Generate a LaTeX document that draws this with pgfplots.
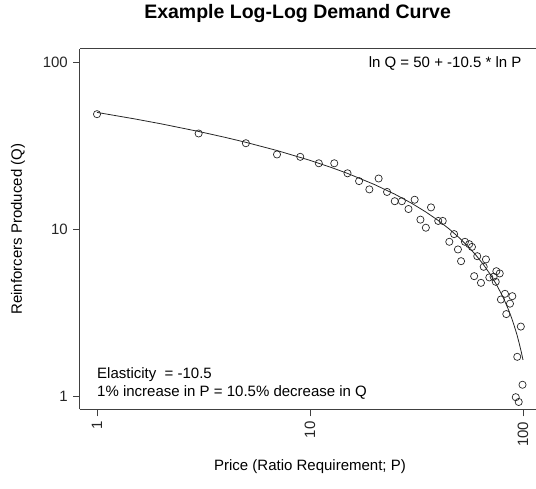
\documentclass[border=0pt]{standalone}
\usepackage{pgfplots}
\pgfplotsset{compat=1.18}
\usepackage{fontspec}
\setmainfont{Liberation Sans}

\pgfplotstableread{
x y
1 48.8
3 37.4
5 32.7
7 28.0
9 27.1
11 24.8
13 24.8
15 21.6
17 19.4
19 17.3
21 20.1
23 16.7
25 14.7
27 14.7
29 13.2
31 15.0
33 11.4
35 10.2
37 13.5
40 11.2
42 11.2
45.1 8.40
47.5 9.34
49.5 7.56
51.2 6.43
53.4 8.40
55.9 8.13
57.6 7.83
59.0 5.23
61.0 6.89
63.5 4.77
65.4 5.95
67.0 6.59
69.5 5.14
72.8 5.19
75.0 5.60
77.8 5.43
74.5 4.84
82.3 4.10
89.1 3.97
78.8 3.79
86.9 3.58
83.5 3.10
97.7 2.61
94.0 1.72
99.5 1.17
92.5 0.986
95.5 0.923
}\pts

\pgfplotstableread{
x y
1 50
1.5 45.74
2 42.72
3 38.46
4 35.44
5 33.10
7 29.57
10 25.82
12.5 23.48
15 21.57
20 18.54
25 16.20
30 14.29
35 12.67
40 11.27
45 10.03
50 8.92
55 7.92
60 7.01
65 6.17
70 5.39
75 4.67
80 3.99
82 3.73
85 3.35
86 3.23
88 2.99
90 2.75
92 2.52
94 2.30
96 2.07
98 1.86
100 1.65
}\curve

\begin{document}
\fontsize{15}{18}\selectfont
\begin{tikzpicture}
\begin{axis}[
  at={(0,0)}, anchor=south west,
  xmode=log, ymode=log,
  scale only axis, width=460pt, height=360.7pt,
  xmin=0.832, xmax=120.2, ymin=0.832, ymax=120.2,
  axis x line=box, axis y line=left,
  y axis line style={-},
  xtick={1,10,100}, xticklabels={1,10,100},
  ytick={1,10,100}, yticklabels={1,10,100},
  minor xtick={}, minor ytick={},
  xminorticks=false, yminorticks=false,
  tick align=outside, major tick length=7pt,
  xtick pos=bottom, ytick pos=left,
  xticklabel style={rotate=90, anchor=east},
  tick label style={font=\fontsize{15}{18}\selectfont, text=black!85},
  axis line style={line width=1pt, black!75},
  every tick/.style={black!75, line width=0.8pt},
  title={Example Log-Log Demand Curve},
  title style={font=\bfseries\fontsize{19.5}{22}\selectfont, at={(0.473,1.080)}, anchor=center},
  xlabel={Price (Ratio Requirement; P)},
  xlabel style={font=\fontsize{15}{18}\selectfont, at={(0.5,-0.1594)}, anchor=center},
  ylabel={Reinforcers Produced (Q)},
  ylabel style={font=\fontsize{15}{18}\selectfont, at={(-0.1348,0.5)}, anchor=center},
  clip=false,
]
\addplot[black!85, line width=0.8pt, no marks] table {\curve};
\addplot[only marks, mark=o, mark size=3.6pt, mark options={line width=0.7pt, black!85}] table {\pts};
\node[anchor=east, font=\fontsize{15}{18}\selectfont, inner sep=0pt] at (rel axis cs:0.960,0.9606) {ln Q = 50 + -10.5 * ln P};
\node[anchor=west, font=\fontsize{15}{18}\selectfont, inner sep=0pt] at (rel axis cs:0.037,0.098) {Elasticity\ \ = -10.5};
\node[anchor=west, font=\fontsize{15}{18}\selectfont, inner sep=0pt] at (rel axis cs:0.037,0.046) {1\% increase in P = 10.5\% decrease in Q};
\end{axis}
\pgfresetboundingbox
\path (-80pt,-79.5pt) rectangle (456pt,409.5pt);
\end{tikzpicture}
\end{document}
